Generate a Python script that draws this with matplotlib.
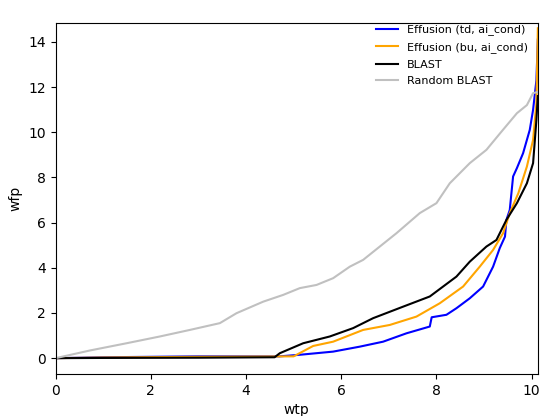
import numpy as np
import matplotlib.pyplot as plt

# curves (wtp, wfp)
td_x = [0, 1.0, 3.0, 4.7, 5.13, 5.83, 6.39, 6.88, 7.37, 7.86, 7.90, 8.21, 8.42, 8.70,
        8.98, 9.19, 9.33, 9.44, 9.47, 9.54, 9.61, 9.69, 9.82, 9.96, 10.03, 10.10, 10.13]
td_y = [0, 0.04, 0.08, 0.08, 0.15, 0.29, 0.51, 0.73, 1.10, 1.40, 1.81, 1.92, 2.21, 2.65,
        3.17, 4.05, 4.87, 5.38, 6.12, 6.56, 8.04, 8.41, 9.07, 10.10, 10.99, 12.3, 14.1]

bu_x = [0, 1.0, 3.0, 5.0, 5.41, 5.83, 6.46, 7.02, 7.58, 8.07, 8.56, 8.91, 9.19, 9.40,
        9.54, 9.72, 9.90, 10.03, 10.10, 10.13]
bu_y = [0, 0.03, 0.06, 0.08, 0.54, 0.73, 1.25, 1.47, 1.84, 2.43, 3.17, 4.05, 4.79, 5.53,
        6.42, 7.30, 8.48, 9.66, 11.28, 14.6]

blast_x = [0, 1.0, 3.0, 4.6, 4.71, 5.20, 5.76, 6.25, 6.67, 7.30, 7.86, 8.14, 8.42, 8.70,
           9.05, 9.26, 9.47, 9.69, 9.90, 10.03, 10.10, 10.13]
blast_y = [0, 0.01, 0.02, 0.04, 0.22, 0.66, 0.96, 1.33, 1.77, 2.28, 2.73, 3.17, 3.61, 4.27,
           4.94, 5.23, 6.12, 6.86, 7.74, 8.63, 10.54, 11.6]

rand_x = [0, 0.72, 1.49, 2.19, 2.82, 3.45, 3.80, 4.36, 4.78, 5.13, 5.48, 5.83, 6.18,
          6.46, 7.16, 7.65, 8.00, 8.28, 8.70, 9.05, 9.34, 9.69, 9.90, 10.03, 10.13]
rand_y = [0, 0.34, 0.66, 0.96, 1.25, 1.55, 1.99, 2.50, 2.80, 3.10, 3.24, 3.54, 4.05,
          4.35, 5.53, 6.42, 6.86, 7.74, 8.63, 9.22, 9.96, 10.84, 11.2, 11.73, 11.78]

fig = plt.figure(figsize=(5.4, 4.16), dpi=100)
ax = fig.add_axes([0.103, 0.101, 0.893, 0.843])

ax.plot(td_x, td_y, color="blue", lw=1.5, label="Effusion (td, ai_cond)")
ax.plot(bu_x, bu_y, color="orange", lw=1.5, label="Effusion (bu, ai_cond)")
ax.plot(blast_x, blast_y, color="black", lw=1.5, label="BLAST")
ax.plot(rand_x, rand_y, color="silver", lw=1.5, label="Random BLAST")

ax.set_xlim(0, 10.13)
ax.set_ylim(-0.7, 14.82)
ax.set_xticks(np.arange(0, 11, 2))
ax.set_yticks(np.arange(0, 15, 2))
ax.set_xlabel("wtp")
ax.set_ylabel("wfp")

ax.legend(loc="upper right", bbox_to_anchor=(1.0, 1.025), frameon=False,
          fontsize=8, labelspacing=0.6)

fig.savefig("out.png", dpi=100)
